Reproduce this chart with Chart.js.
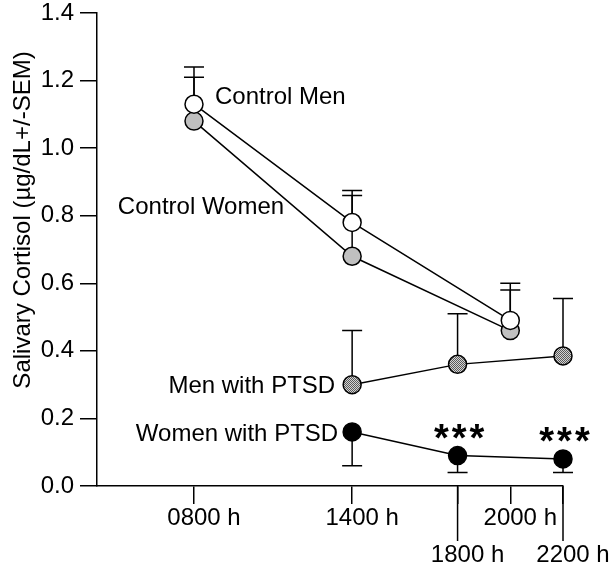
<!DOCTYPE html>
<html lang="en">
<head>
<meta charset="UTF-8">
<title>Salivary cortisol by time of day</title>
<script src="https://cdn.jsdelivr.net/npm/chart.js"></script>
<style>
    html, body { margin: 0; padding: 0; background: #fff; }
    canvas { display: block; }
</style>
</head>
<body>
<canvas id="chartCortisol" width="616" height="563"></canvas>
<script>
    // sampling times (clock hour) and tick labels
    const hoursControl = [8, 14, 20];
    const hoursPtsd = [14, 18, 22];
    const tickHours = [8, 14, 18, 20, 22];
    const tickLabels = ['0800 h', '1400 h', '1800 h', '2000 h', '2200 h'];
    const lowerRowHours = [18, 22];
    const yTicks = [0, 0.2, 0.4, 0.6, 0.8, 1.0, 1.2, 1.4];

    // means and SEM (µg/dL)
    const controlMen = [1.13, 0.78, 0.49];
    const controlMenSem = [0.11, 0.095, 0.11];
    const controlWomen = [1.08, 0.68, 0.46];
    const controlWomenSem = [0.13, 0.18, 0.12];
    const menPtsd = [0.30, 0.36, 0.385];
    const menPtsdSem = [0.16, 0.15, 0.17];
    const womenPtsd = [0.16, 0.09, 0.08];
    const womenPtsdSem = [0.10, 0.05, 0.04];
    const womenPtsdSig = ['', '***', '***'];

    const FONT = "'Liberation Sans', Arial, sans-serif";

    function pts(hours, vals) {
        return hours.map((h, i) => ({ x: h, y: vals[i] }));
    }

    // dithered grey used for the men with PTSD markers
    function hatch() {
        const c = document.createElement('canvas');
        c.width = 2; c.height = 2;
        const g = c.getContext('2d');
        g.fillStyle = '#d4d4d4'; g.fillRect(0, 0, 2, 2);
        g.fillStyle = '#5a5a5a'; g.fillRect(0, 0, 1, 1); g.fillRect(1, 1, 1, 1);
        return document.getElementById('chartCortisol').getContext('2d').createPattern(c, 'repeat');
    }

    function serie(label, hours, vals, sem, dir, fill, tag) {
        return {
            label: label,
            data: pts(hours, vals),
            sem: sem,
            errDir: dir,
            tag: tag,
            clip: false,
            borderColor: '#000',
            borderWidth: 1.5,
            backgroundColor: fill,
            pointBackgroundColor: fill,
            pointBorderColor: '#000',
            pointBorderWidth: 1.5,
            pointRadius: 9,
            tension: 0
        };
    }

    const extras = {
        id: 'extras',
        beforeDatasetsDraw(chart) {
            const ctx = chart.ctx, ys = chart.scales.y;
            ctx.save();
            ctx.strokeStyle = '#000';
            ctx.lineWidth = 1.5;
            chart.data.datasets.forEach((ds, i) => {
                chart.getDatasetMeta(i).data.forEach((p, j) => {
                    const end = ys.getPixelForValue(ds.data[j].y + ds.errDir * ds.sem[j]);
                    ctx.beginPath();
                    ctx.moveTo(p.x, p.y); ctx.lineTo(p.x, end);
                    ctx.moveTo(p.x - 10, end); ctx.lineTo(p.x + 10, end);
                    ctx.stroke();
                });
            });
            ctx.restore();
        },
        afterDatasetsDraw(chart) {
            const ctx = chart.ctx;
            ctx.save();
            ctx.fillStyle = '#000';
            ctx.font = '24px ' + FONT;
            ctx.textBaseline = 'alphabetic';
            chart.data.datasets.forEach((ds, i) => {
                const p = chart.getDatasetMeta(i).data[ds.tag.index];
                ctx.textAlign = ds.tag.align;
                ctx.fillText(ds.label, p.x + ds.tag.dx, p.y + ds.tag.dy);
            });
            // significance stars over women with PTSD
            const meta = chart.getDatasetMeta(3);
            ctx.font = 'bold 38px ' + FONT;
            ctx.textAlign = 'center';
            ctx.letterSpacing = '3px';
            womenPtsdSig.forEach((s, j) => {
                if (!s) return;
                const p = meta.data[j];
                ctx.fillText(s, p.x + 3, p.y - 5);
            });
            ctx.restore();
        },
        afterDraw(chart) {
            const ctx = chart.ctx, xs = chart.scales.x, area = chart.chartArea;
            ctx.save();
            ctx.strokeStyle = '#000';
            ctx.lineWidth = 1.5;
            lowerRowHours.forEach(h => {
                const x = xs.getPixelForValue(h);
                ctx.beginPath();
                ctx.moveTo(x, area.bottom);
                ctx.lineTo(x, area.bottom + 55);
                ctx.stroke();
            });
            // y axis title
            ctx.translate(23, 220);
            ctx.rotate(-Math.PI / 2);
            ctx.fillStyle = '#000';
            ctx.font = '24px ' + FONT;
            ctx.textAlign = 'center';
            ctx.textBaseline = 'middle';
            ctx.fillText('Salivary Cortisol (µg/dL+/-SEM)', 0, 0);
            ctx.restore();
        }
    };

    const ctx = document.getElementById('chartCortisol').getContext('2d');
    new Chart(ctx, {
        type: 'line',
        data: {
            datasets: [
                serie('Control Men', hoursControl, controlMen, controlMenSem, 1, '#ffffff',
                      { index: 0, dx: 21, dy: 0, align: 'left' }),
                serie('Control Women', hoursControl, controlWomen, controlWomenSem, 1, '#c0c0c0',
                      { index: 1, dx: -68, dy: -42, align: 'right' }),
                serie('Men with PTSD', hoursPtsd, menPtsd, menPtsdSem, 1, hatch(),
                      { index: 0, dx: -17, dy: 8, align: 'right' }),
                serie('Women with PTSD', hoursPtsd, womenPtsd, womenPtsdSem, -1, '#000000',
                      { index: 0, dx: -14, dy: 9, align: 'right' })
            ]
        },
        options: {
            responsive: false,
            animation: false,
            layout: { padding: { top: 13, right: 53, left: 0, bottom: 0 } },
            plugins: {
                legend: { display: false },
                tooltip: { enabled: false }
            },
            scales: {
                x: {
                    type: 'linear',
                    min: 4.32,
                    max: 22,
                    afterBuildTicks: s => { s.ticks = tickHours.map(v => ({ value: v })); },
                    afterFit: s => { s.height = 77; s.paddingLeft = 0; s.paddingRight = 0; },
                    border: { color: '#000', width: 1.5 },
                    grid: { drawOnChartArea: false, color: '#000', lineWidth: 1.5, tickLength: 18 },
                    ticks: {
                        color: '#000',
                        font: { family: FONT, size: 24, lineHeight: 1.55 },
                        padding: -4,
                        labelOffset: 10,
                        maxRotation: 0,
                        autoSkip: false,
                        callback: v => {
                            const lab = tickLabels[tickHours.indexOf(v)];
                            return lowerRowHours.includes(v) ? ['', lab] : lab;
                        }
                    }
                },
                y: {
                    min: 0,
                    max: 1.4,
                    afterBuildTicks: s => { s.ticks = yTicks.map(v => ({ value: v })); },
                    afterFit: s => { s.width = 97; s.paddingTop = 0; s.paddingBottom = 0; },
                    border: { color: '#000', width: 1.5 },
                    grid: { drawOnChartArea: false, color: '#000', lineWidth: 1.5, tickLength: 17 },
                    ticks: {
                        color: '#000',
                        font: { family: FONT, size: 24 },
                        padding: 6,
                        callback: v => v.toFixed(1)
                    }
                }
            }
        },
        plugins: [extras]
    });
</script>
</body>
</html>
